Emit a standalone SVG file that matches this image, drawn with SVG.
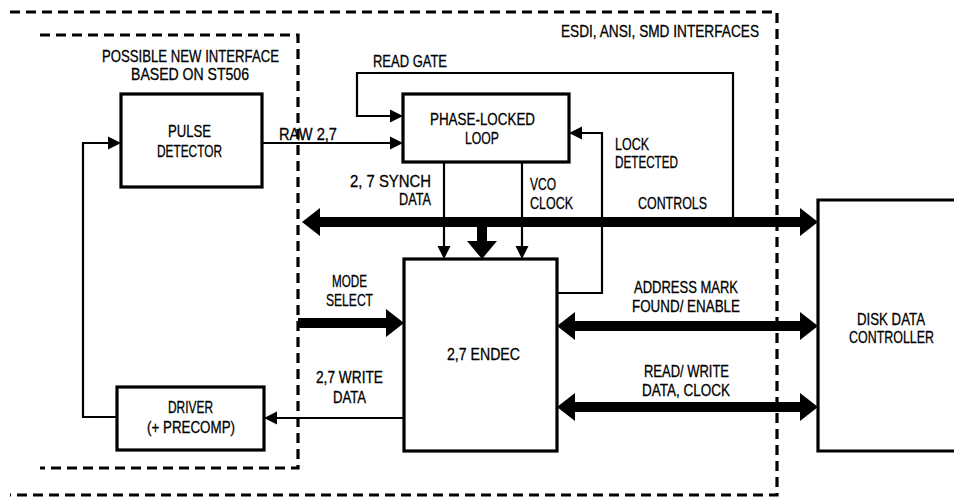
<svg xmlns="http://www.w3.org/2000/svg" width="954" height="497" viewBox="0 0 954 497">
<defs>
<style>
.t{font-family:"Liberation Sans",Arial,sans-serif;font-size:17px;fill:#000;stroke:#000;stroke-width:0.3}
.m{text-anchor:middle}
.box{fill:#fff;stroke:#000;stroke-width:3.2}
.dash{fill:none;stroke:#000;stroke-width:3.2;stroke-dasharray:10 6}
.ln{fill:none;stroke:#000;stroke-width:2.2}
.bus{fill:none;stroke:#000;stroke-width:10}
.ah{fill:#000}
</style>
</defs>
<rect width="954" height="497" fill="#fff"/>
<g id="boundaries">
<path class="dash" d="M10 12 H777 V495 H10"/>
<path class="dash" d="M40 35 H298 V468 H40"/>
<text class="t" x="561" y="37" textLength="198" lengthAdjust="spacingAndGlyphs">ESDI, ANSI, SMD INTERFACES</text>
<text class="t" x="102" y="62" textLength="177" lengthAdjust="spacingAndGlyphs">POSSIBLE NEW INTERFACE</text>
<text class="t" x="131" y="80" textLength="118" lengthAdjust="spacingAndGlyphs">BASED ON ST506</text>
</g>
<g id="connectors">
<path class="ln" d="M733 222 V73 H357 V116 H392"/>
<path class="ah" d="M403 116 L390 109.5 V122.5 Z"/>
<text class="t" x="373" y="67" textLength="74" lengthAdjust="spacingAndGlyphs">READ GATE</text>
<path class="ln" d="M262 143 H392"/>
<path class="ah" d="M403 143 L390 136.5 V149.5 Z"/>
<text class="t" x="279" y="140" textLength="58" lengthAdjust="spacingAndGlyphs">RAW 2,7</text>
<path class="ln" d="M117 417 H83 V143 H110"/>
<path class="ah" d="M121 143 L108 136.5 V149.5 Z"/>
<path class="ln" d="M404 418 H275"/>
<path class="ah" d="M264 418 L277 411.5 V424.5 Z"/>
<text class="t" x="316" y="383" textLength="67" lengthAdjust="spacingAndGlyphs">2,7 WRITE</text>
<text class="t" x="333" y="403" textLength="33" lengthAdjust="spacingAndGlyphs">DATA</text>
<path class="ln" d="M444 162 V248"/>
<path class="ah" d="M444 259 L437.5 246 H450.5 Z"/>
<text class="t" x="350" y="187" textLength="81" lengthAdjust="spacingAndGlyphs">2, 7 SYNCH</text>
<text class="t" x="399" y="205" textLength="32" lengthAdjust="spacingAndGlyphs">DATA</text>
<path class="ln" d="M522 162 V248"/>
<path class="ah" d="M522 259 L515.5 246 H528.5 Z"/>
<text class="t" x="530" y="190" textLength="26" lengthAdjust="spacingAndGlyphs">VCO</text>
<text class="t" x="530" y="209" textLength="43" lengthAdjust="spacingAndGlyphs">CLOCK</text>
<path class="ln" d="M557 293 H602 V133 H580"/>
<path class="ah" d="M569 133 L582 126.5 V139.5 Z"/>
<text class="t" x="615" y="150" textLength="34" lengthAdjust="spacingAndGlyphs">LOCK</text>
<text class="t" x="615" y="168" textLength="63" lengthAdjust="spacingAndGlyphs">DETECTED</text>
<path class="bus" d="M318 222 H804"/>
<path class="ah" d="M302 222 L320 208 V236 Z"/>
<path class="ah" d="M818 222 L800 208 V236 Z"/>
<text class="t" x="638" y="209" textLength="69" lengthAdjust="spacingAndGlyphs">CONTROLS</text>
<path class="bus" d="M482 222 V244"/>
<path class="ah" d="M482 259 L467 241 H497 Z"/>
<path class="bus" d="M298 323 H390"/>
<path class="ah" d="M404 323 L386 309 V337 Z"/>
<text class="t" x="332" y="287" textLength="35" lengthAdjust="spacingAndGlyphs">MODE</text>
<text class="t" x="326" y="306" textLength="47" lengthAdjust="spacingAndGlyphs">SELECT</text>
<path class="bus" d="M572 326 H804"/>
<path class="ah" d="M557 326 L575 312 V340 Z"/>
<path class="ah" d="M818 326 L800 312 V340 Z"/>
<text class="t" x="634" y="293" textLength="104" lengthAdjust="spacingAndGlyphs">ADDRESS MARK</text>
<text class="t" x="632" y="312" textLength="108" lengthAdjust="spacingAndGlyphs">FOUND/ ENABLE</text>
<path class="bus" d="M572 407 H804"/>
<path class="ah" d="M557 407 L575 393 V421 Z"/>
<path class="ah" d="M818 407 L800 393 V421 Z"/>
<text class="t" x="644" y="377" textLength="85" lengthAdjust="spacingAndGlyphs">READ/ WRITE</text>
<text class="t" x="642" y="396" textLength="88" lengthAdjust="spacingAndGlyphs">DATA, CLOCK</text>
</g>
<g id="pulse-detector">
<rect class="box" x="121" y="94" width="141" height="93"/>
<text class="t" x="168" y="137" textLength="43" lengthAdjust="spacingAndGlyphs">PULSE</text>
<text class="t" x="157" y="157" textLength="65" lengthAdjust="spacingAndGlyphs">DETECTOR</text>
</g>
<g id="pll">
<rect class="box" x="403" y="94" width="166" height="68"/>
<text class="t" x="430" y="125" textLength="105" lengthAdjust="spacingAndGlyphs">PHASE-LOCKED</text>
<text class="t" x="465" y="144" textLength="34" lengthAdjust="spacingAndGlyphs">LOOP</text>
</g>
<g id="endec">
<rect class="box" x="404" y="259" width="153" height="192"/>
<text class="t" x="447" y="360" textLength="73" lengthAdjust="spacingAndGlyphs">2,7 ENDEC</text>
</g>
<g id="driver">
<rect class="box" x="117" y="387" width="147" height="63"/>
<text class="t" x="168" y="413" textLength="45" lengthAdjust="spacingAndGlyphs">DRIVER</text>
<text class="t" x="147" y="433" textLength="88" lengthAdjust="spacingAndGlyphs">(+ PRECOMP)</text>
</g>
<g id="disk-data-controller">
<path class="box" d="M956 200 H818 V451 H956"/>
<text class="t m" x="891" y="325" textLength="68" lengthAdjust="spacingAndGlyphs">DISK DATA</text>
<text class="t m" x="891.5" y="343" textLength="85" lengthAdjust="spacingAndGlyphs">CONTROLLER</text>
</g>
</svg>
